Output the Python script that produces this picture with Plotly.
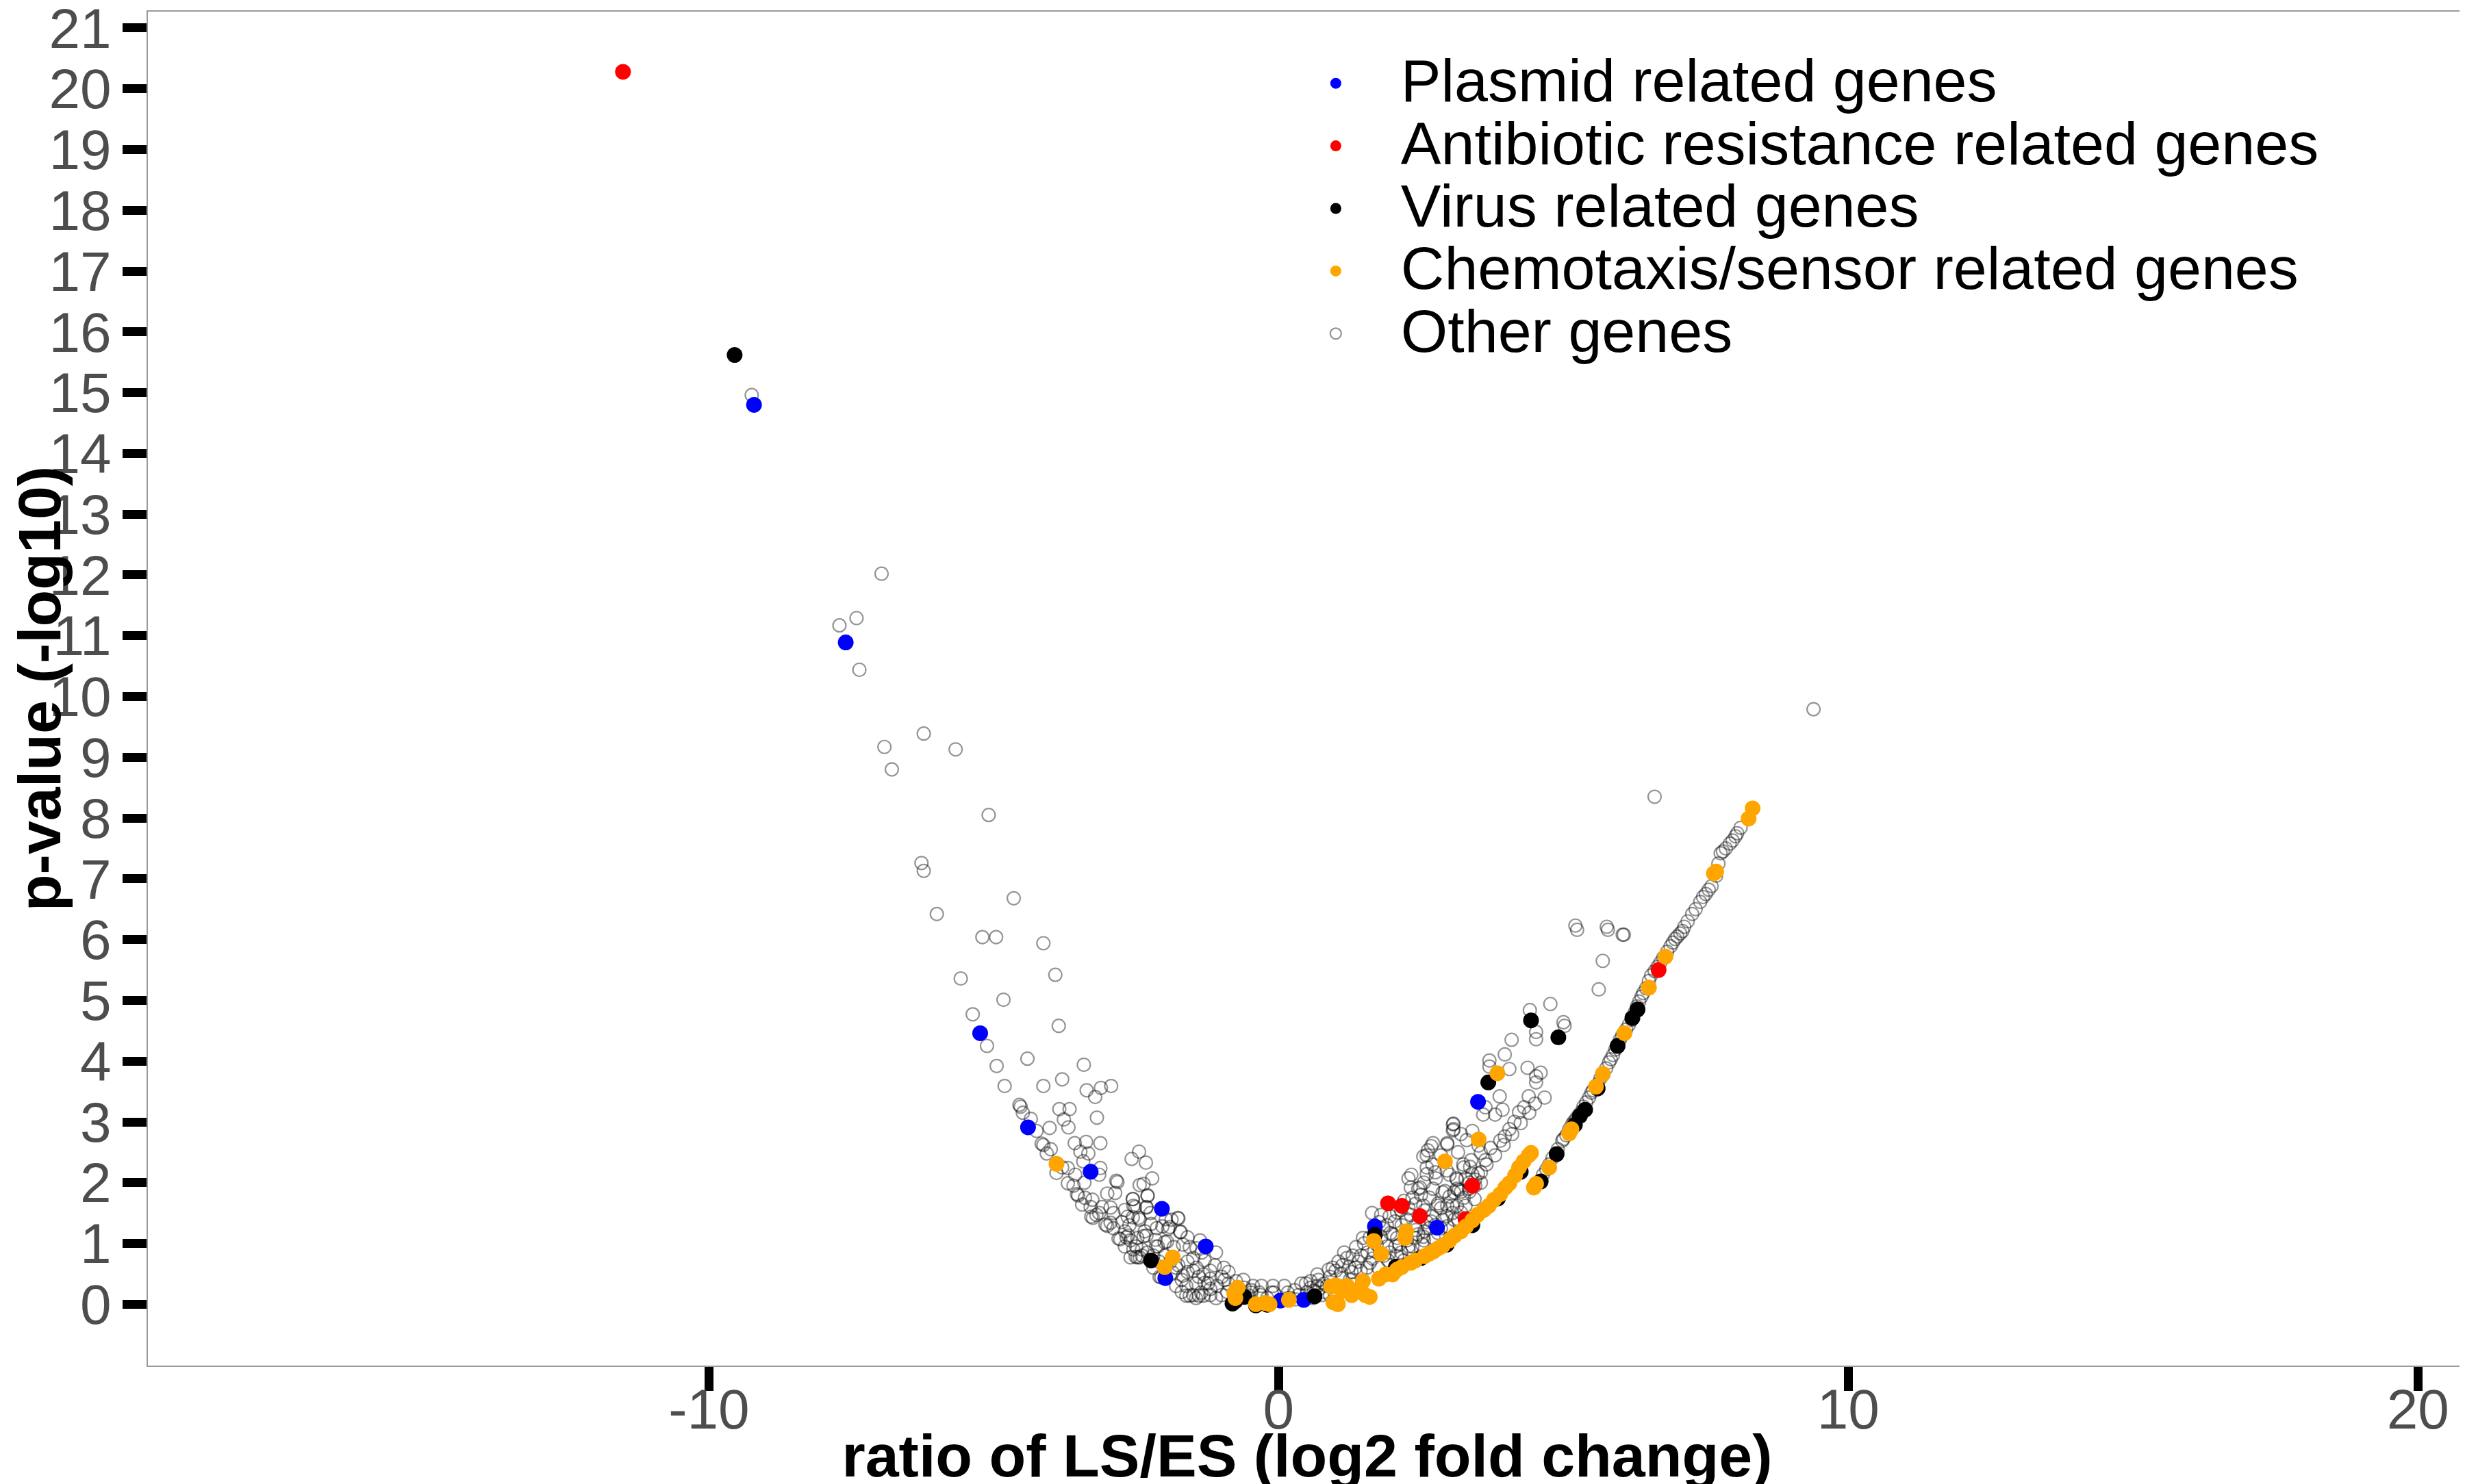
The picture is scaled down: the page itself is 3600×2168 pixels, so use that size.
import plotly.graph_objects as go

# Other genes (open circles)
other_x = [-9.25, -6.97, -7.41, -7.71, -7.36, -6.23, -6.92, -5.67, -6.79, -5.09, -6.27, -6.23,
           -4.65, -6.00, -5.20, -4.96, -4.13, -5.58, -3.92, -4.83, -5.37, -5.12, -4.41, -4.95,
           -3.86, -3.42, -4.81, -4.13, -3.80, -3.37, -3.12, -2.94, -3.22, -4.55, -4.53, -4.49,
           -3.85, -3.67, -3.19, -3.77, -3.69, -4.02, -4.16, -4.13, -4.07, -3.58, -3.38, -3.13,
           -3.48, -3.34, -3.43, -2.45, -2.58, -2.33, -3.90, -3.70, -3.13, -3.15, -3.57, -3.70,
           -3.41, -2.85, -2.83, -2.22, -2.44, -2.37, -3.54, -3.52, -3.01, -2.87, -2.56, -2.30,
           -3.27, -3.45, -2.95, -2.55, -2.32, -3.29, -3.26, -3.20, -3.04, -3.01, -2.95, -2.65,
           -2.46, -1.77, -2.81, -2.78, -2.67, -2.37, -2.14, -1.91, -1.73, -2.51, -2.48, -2.44,
           -2.12, -1.96, -2.09, -2.06, -1.50, -1.68, -1.45,
           -2.30, -2.56, -2.32, -2.52, -1.76, -1.88, -2.56, -2.44, -2.24, -2.04, -1.72, -1.94,
           -2.64, -2.48, -2.32, -2.16, -2.00, -1.84, -1.68, -1.56, -1.44, -1.76, -1.60, -1.44,
           -1.32, -1.12, -0.96, -0.88, -1.00, -1.20, -1.24, -1.08, -0.88, -1.36, -1.20, -0.60,
           -0.48, -0.34, -0.52, -0.20, -0.08, 0.48, 0.56, 0.68, 0.72, 0.80, -2.60, -2.40,
           -1.56, -1.40, -1.32, -2.20, -2.10, -1.86, -1.70, -1.62, -1.80, -1.30, -1.50, -1.10,
           -1.38,
           -2.70, -2.60, -2.50, -2.40, -2.30, -2.20, -2.00, -1.90, -1.80, -1.60, -1.50, -1.40,
           -1.30, -1.20, -1.00, -0.90, -0.70, -1.10, -1.45, -1.62, -1.70, -2.90, -2.75, -3.10,
           -2.70, -2.62, -2.15, -2.35, -2.25, -1.98, -1.60, -1.35, -1.20, -0.95, -0.75, -0.62,
           -0.45, -0.30, -0.10, 0.10, 0.20, 0.35, -3.30, -3.15, -2.90, -2.70, -2.55, -3.40,
           -3.60, -3.80, -4.00, -4.25, -4.35,
           0.28, 0.16, -0.12, -0.32, -0.48, 0.40, 0.56, 0.68, 0.88, 1.12, 1.20, 1.36, 1.48,
           1.28, 1.12, 0.80, 1.60, 1.68, 1.92, 2.08, 2.20, 2.12, 2.28, 2.52, 2.72, 2.80, 2.96,
           3.08, 3.20, 3.28, 3.44, 2.88, 2.80, 3.00, 3.16, 3.40, 1.84, 1.96, 2.08, 2.56, 2.40,
           2.68, 2.08, 1.80, 2.04, 2.32, 2.56, 2.28, 2.32, 2.60, 2.76, 2.48, 2.88, 3.08, 3.24,
           3.36, 3.12, 3.28, 3.05, 2.85, 3.07, 3.07, 2.68, 2.60, 2.96,
           0.70, 0.85, 0.95, 1.10, 1.15, 1.25, 1.35, 1.45, 1.55, 1.65, 1.75, 1.85, 1.95, 2.05,
           2.15, 2.25, 2.35, 2.45, 2.55, 2.65, 2.75, 2.85, 2.95, 3.05, 3.15, 3.25, 3.35, 3.45,
           3.55, 1.95, 2.15, 2.35, 2.50, 2.55, 2.70, 2.85, 2.95, 3.15, 3.30, 3.40, 3.20, 0.30,
           0.50, 0.62, 0.90, 1.10, 1.30,
           5.24, 5.78, 6.06, 5.69, 5.62, 4.77, 4.41, 5.00, 5.02, 4.52, 4.52, 4.09, 3.97, 3.70,
           3.70, 4.05, 4.37, 4.52, 4.60, 4.52, 3.88, 4.39, 4.67, 4.31, 4.22, 3.93, 3.80, 3.63,
           3.59, 3.06, 3.06, 4.14, 4.05, 3.97, 3.89, 3.72, 3.55, 3.51, 3.38, 3.25, 2.96, 2.71,
           2.62, 2.54, 2.60, 2.75, 3.00, 3.13, 3.63, 3.55, 3.34, 3.13, 2.92, 2.71, 2.45, 2.33,
           2.96, 3.13, 2.79, 2.54, 2.28, 2.41, 2.54, 2.28,
           3.80, 3.95, 4.10, 4.25, 4.40, 4.50, 3.65, 3.50, 3.35, 3.20, 3.45,
           4.64, 4.81, 4.98, 5.15, 5.40, 5.49, 5.83, 5.91, 5.99, 6.29, 6.37, 6.54, 6.88, 6.96,
           7.09, 7.12, 7.26, 7.32, 7.60, 7.72, 7.76, 7.97, 8.11, 6.60, 9.39, 5.21, 5.76, 6.04,
           5.05, 5.22, 5.30, 5.60, 5.70, 5.75, 6.10, 6.20, 6.45, 6.65, 6.75, 7.00, 7.40, 7.50,
           7.85, 8.05,
           4.70, 4.75, 4.90, 5.00, 5.10, 5.18, 5.26, 5.35, 5.45, 5.52, 5.65, 5.80, 5.87, 5.95,
           6.03, 6.15, 6.25, 6.33, 6.40, 6.50, 6.60, 6.70, 6.82, 6.92, 7.05, 7.18, 7.45, 7.55,
           7.68, 7.80, 7.92, 8.02,
           0.60, 0.76, 0.90, 1.00, 1.05, 1.24, 1.30, 1.40, 1.44, 1.56, 1.50, 1.60, 1.72, 1.80,
           1.90, 2.00, 2.16, 2.24, 1.90, 1.76, 1.64, 2.40, 2.60, 2.70, 2.40, 2.65, 2.20]
other_y = [14.96, 12.02, 11.29, 11.17, 10.44, 9.39, 9.17, 9.13, 8.80, 8.05, 7.26, 7.13,
           6.68, 6.42, 6.04, 6.04, 5.94, 5.36, 5.42, 5.01, 4.77, 4.25, 4.04, 3.92,
           4.58, 3.94, 3.59, 3.59, 3.70, 3.52, 3.56, 3.59, 3.41, 3.28, 3.25, 3.15,
           3.21, 3.21, 3.07, 3.04, 2.91, 2.90, 2.64, 2.62, 2.48, 2.65, 2.67, 2.65,
           2.51, 2.48, 2.35, 2.51, 2.39, 2.33, 2.16, 2.24, 2.24, 2.13, 2.13, 1.99,
           2.00, 2.03, 2.01, 2.07, 1.96, 1.98, 1.81, 1.79, 1.82, 1.83, 1.73, 1.78,
           1.72, 1.64, 1.59, 1.62, 1.59, 1.44, 1.42, 1.47, 1.31, 1.29, 1.34, 1.44,
           1.42, 1.42, 1.08, 1.07, 1.10, 1.12, 1.25, 1.27, 1.19, 0.78, 0.77, 0.77,
           0.95, 1.03, 0.45, 0.44, 0.15, 0.47, 0.34,
           1.79, 1.73, 1.60, 1.60, 1.41, 1.39, 1.43, 1.39, 1.32, 1.28, 1.19, 1.24,
           1.13, 1.09, 1.13, 1.06, 1.02, 0.94, 0.98, 0.94, 0.92, 0.64, 0.53, 0.60,
           0.49, 0.64, 0.60, 0.53, 0.45, 0.42, 0.34, 0.30, 0.34, 0.19, 0.15, 0.27,
           0.23, 0.19, 0.14, 0.10, 0.19, 0.34, 0.27, 0.30, 0.26, 0.20, 0.77, 0.80,
           0.14, 0.14, 0.14, 0.60, 0.70, 0.52, 0.40, 0.30, 0.30, 0.72, 0.76, 0.85,
           1.05,
           1.20, 1.05, 0.95, 0.90, 0.85, 0.80, 0.80, 0.70, 0.60, 0.70, 0.55, 0.45,
           0.35, 0.25, 0.15, 0.20, 0.12, 0.10, 0.10, 0.14, 0.20, 1.50, 1.35, 1.60,
           1.55, 1.30, 0.95, 1.20, 1.50, 1.40, 1.10, 0.85, 0.55, 0.40, 0.38, 0.40,
           0.30, 0.30, 0.30, 0.30, 0.10, 0.15, 1.60, 1.50, 1.25, 0.95, 0.90, 1.75,
           1.95, 2.25, 2.55, 2.85, 3.05,
           0.23, 0.19, 0.19, 0.15, 0.19, 0.34, 0.38, 0.49, 0.57, 0.64, 0.76, 0.94, 1.09,
           0.53, 0.42, 0.34, 0.68, 0.87, 0.72, 0.79, 0.72, 0.98, 0.90, 0.98, 1.09, 1.17, 1.28,
           1.39, 1.51, 1.62, 1.73, 1.39, 1.66, 1.77, 1.88, 2.14, 1.24, 1.17, 1.09, 1.20, 1.09,
           1.36, 1.51, 1.47, 1.36, 1.47, 1.54, 2.07, 1.92, 2.14, 2.07, 1.92, 1.84, 1.84, 2.30,
           2.26, 2.07, 2.07, 1.62, 1.58, 2.97, 2.88, 2.60, 2.45, 2.63,
           0.40, 0.30, 0.60, 0.50, 0.85, 0.40, 0.60, 0.80, 0.60, 0.75, 0.60, 0.80, 0.85, 0.95,
           0.85, 1.05, 0.95, 1.15, 1.05, 1.25, 1.30, 1.25, 1.45, 1.50, 1.40, 1.75, 1.85, 1.95,
           2.00, 1.45, 1.55, 1.75, 1.80, 2.00, 2.30, 2.45, 2.20, 2.50, 2.70, 2.85, 2.80, 0.08,
           0.20, 0.22, 0.15, 0.28, 0.32,
           6.16, 6.16, 6.08, 5.65, 5.18, 4.94, 4.84, 4.64, 4.58, 4.48, 4.36, 4.35, 4.11, 4.01,
           3.91, 3.87, 3.89, 3.75, 3.81, 3.65, 3.42, 3.42, 3.40, 3.24, 3.16, 3.20, 3.12, 3.24,
           3.12, 2.96, 2.86, 3.00, 2.88, 2.76, 2.69, 2.57, 2.49, 2.61, 2.37, 2.25, 2.65, 2.65,
           2.53, 2.43, 2.25, 2.17, 2.13, 2.05, 2.37, 2.17, 1.90, 1.90, 1.86, 1.90, 1.90, 2.13,
           1.62, 1.62, 1.62, 1.62, 1.58, 1.22, 1.11, 0.95,
           2.45, 2.62, 2.80, 2.98, 3.15, 3.30, 2.30, 2.15, 2.00, 1.85, 2.05,
           2.13, 2.41, 2.69, 2.96, 3.32, 3.48, 4.03, 4.19, 4.35, 4.90, 5.06, 5.41, 5.89, 6.01,
           6.14, 6.21, 6.42, 6.50, 6.88, 7.25, 7.42, 7.63, 7.84, 8.35, 9.79, 6.23, 6.21, 6.08,
           2.78, 3.05, 3.15, 3.62, 3.78, 3.88, 4.52, 4.68, 5.20, 5.55, 5.70, 6.05, 6.62, 6.75,
           7.50, 7.75,
           2.22, 2.30, 2.55, 2.72, 2.88, 3.00, 3.10, 3.25, 3.40, 3.52, 3.72, 3.98, 4.10, 4.27,
           4.42, 4.60, 4.80, 4.98, 5.12, 5.32, 5.48, 5.62, 5.80, 5.95, 6.10, 6.30, 6.70, 6.82,
           7.05, 7.45, 7.58, 7.70,
           0.10, 0.15, 0.45, 0.55, 0.70, 0.62, 0.80, 0.70, 0.55, 0.85, 1.00, 1.10, 0.98, 1.10,
           0.95, 1.15, 1.30, 1.40, 1.30, 1.35, 1.50, 1.30, 1.35, 1.45, 1.65, 1.75, 1.70]

# Plasmid related genes
plasmid_x = [-9.21, -7.60, -5.24, -4.40, -3.30, -2.05, -1.28, -1.99, 0.03, 0.44, 1.69, 2.78, 3.50]
plasmid_y = [14.80, 10.89, 4.46, 2.91, 2.18, 1.57, 0.95, 0.43, 0.06, 0.07, 1.28, 1.26, 3.33]

# Antibiotic resistance related genes
antibiotic_x = [-11.51, 1.92, 2.16, 2.48, 3.40, 3.28, 6.67]
antibiotic_y = [20.28, 1.66, 1.62, 1.45, 1.95, 1.40, 5.50]

# Virus related genes
virus_x = [-9.55, -2.24, -0.81, -0.60, -0.76, -0.20, -0.40, 0.63, 1.69, 3.68, 4.43, 4.91,
           6.21, 5.29, 4.88, 2.06, 2.50, 2.95, 3.40, 3.85, 4.25, 4.60, 5.20, 5.38, 5.60,
           5.95, 6.30]
virus_y = [15.62, 0.72, 0.01, 0.12, 0.05, -0.01, -0.02, 0.13, 1.14, 3.65, 4.67, 4.39,
           4.71, 3.10, 2.47, 0.62, 0.76, 0.98, 1.30, 1.74, 2.18, 2.02, 2.95, 3.20, 3.55,
           4.25, 4.85]

# Chemotaxis/sensor related genes
chemo_x = [-3.90, -1.86, -2.00, -0.72, -0.78, -0.76, -0.40, -0.24, -0.16, 0.18, 0.92, 1.00,
           0.96, 1.04, 1.28, 1.48, 1.52, 1.60, 1.67, 1.80, 2.24, 2.22, 2.92, 3.51, 3.84,
           1.76, 1.88, 2.00, 2.16, 2.40, 2.64, 2.72, 2.88, 3.09, 3.29, 3.49, 3.69, 3.89, 4.05,
           4.22, 4.39, 4.43, 1.12, 1.20, 1.36, 2.08, 2.32, 2.56, 2.80, 3.00, 3.20, 3.40, 3.60,
           3.78, 3.98, 4.15, 4.30,
           4.48, 4.52, 4.75, 5.10, 5.14, 5.57, 5.69, 6.07, 6.50, 6.79, 7.64, 7.68, 8.25, 8.32]
chemo_y = [2.31, 0.77, 0.61, 0.27, 0.18, 0.10, 0.00, 0.02, 0.00, 0.07, 0.29, 0.31,
           0.03, 0.00, 0.15, 0.38, 0.15, 0.12, 1.04, 0.83, 1.20, 1.09, 2.35, 2.71, 3.80,
           0.42, 0.49, 0.49, 0.61, 0.72, 0.83, 0.87, 0.96, 1.13, 1.28, 1.47, 1.62, 1.81, 1.99,
           2.25, 2.45, 2.49, 0.22, 0.30, 0.22, 0.57, 0.68, 0.79, 0.92, 1.05, 1.20, 1.38, 1.55,
           1.72, 1.92, 2.12, 2.35,
           1.92, 1.98, 2.25, 2.81, 2.88, 3.58, 3.79, 4.46, 5.21, 5.72, 7.09, 7.12, 7.99, 8.16]

y_ticks = list(range(0, 22))
x_ticks = [-10, 0, 10, 20]
x_ticktext = ["-10", "0", "10", "20"]

FONT = "Liberation Sans, Arial, sans-serif"
LEG = '<span style="font-size:88px">{}</span>'

fig = go.Figure()

fig.add_trace(go.Scatter(
    x=other_x, y=other_y, mode="markers", name=LEG.format("Other genes"),
    legendrank=5,
    marker=dict(symbol="circle-open", size=19, color="rgba(0,0,0,0.42)",
                line=dict(width=2.2, color="rgba(0,0,0,0.42)"))
))

groups = [
    ("Plasmid related genes", plasmid_x, plasmid_y, "#0000FF", 1),
    ("Antibiotic resistance related genes", antibiotic_x, antibiotic_y, "#FF0000", 2),
    ("Virus related genes", virus_x, virus_y, "#000000", 3),
    ("Chemotaxis/sensor related genes", chemo_x, chemo_y, "#FFA500", 4),
]
for name, xs, ys, col, rank in groups:
    fig.add_trace(go.Scatter(
        x=xs, y=ys, mode="markers", name=LEG.format(name), legendrank=rank,
        marker=dict(symbol="circle", size=23, color=col, line=dict(width=0))
    ))

axis_common = dict(
    showgrid=False, zeroline=False, automargin=False,
    showline=True, mirror=True, linecolor="#9a9a9a", linewidth=2,
    ticks="outside", ticklen=35, tickwidth=13, tickcolor="black",
    tickfont=dict(family=FONT, size=82, color="#4D4D4D"),
)

fig.update_layout(
    width=3600,
    height=2168,
    margin=dict(l=208, r=6, t=9, b=181),
    paper_bgcolor="white",
    plot_bgcolor="white",
    font=dict(family=FONT, color="black"),
    xaxis=dict(range=[-19.85, 20.85], tickvals=x_ticks, ticktext=x_ticktext,
               ticklabelstandoff=-43,
               title=dict(text="ratio of LS/ES (log2 fold change)", standoff=10,
                          font=dict(family=FONT, size=88, color="black", weight="bold")),
               **axis_common),
    yaxis=dict(range=[-1.01, 21.27], tickvals=y_ticks, ticklabeloverflow="allow",
               title=dict(text="p-value (-log10)", standoff=33,
                          font=dict(family=FONT, size=88, color="black", weight="bold")),
               **axis_common),
    legend=dict(x=0.4843, y=0.9727, xanchor="left", yanchor="top",
                bgcolor="rgba(0,0,0,0)", font=dict(family=FONT, size=68, color="black"),
                itemwidth=180, tracegroupgap=0),
)

fig.write_html("out.html")
